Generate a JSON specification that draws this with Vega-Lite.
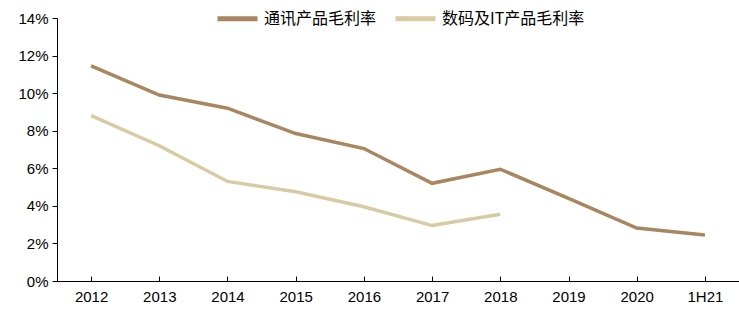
{
  "$schema": "https://vega.github.io/schema/vega-lite/v6.json",
  "width": 682,
  "height": 263,
  "autosize": "none",
  "padding": {"left": 57, "top": 18, "right": 0, "bottom": 37},
  "background": "white",
  "config": {"view": {"stroke": null}, "font": "Liberation Sans"},
  "data": {"values": [
    {"period": "2012", "series": "通讯产品毛利率", "value": 11.45},
    {"period": "2013", "series": "通讯产品毛利率", "value": 9.9},
    {"period": "2014", "series": "通讯产品毛利率", "value": 9.2},
    {"period": "2015", "series": "通讯产品毛利率", "value": 7.85},
    {"period": "2016", "series": "通讯产品毛利率", "value": 7.05},
    {"period": "2017", "series": "通讯产品毛利率", "value": 5.2},
    {"period": "2018", "series": "通讯产品毛利率", "value": 5.95},
    {"period": "2019", "series": "通讯产品毛利率", "value": 4.4},
    {"period": "2020", "series": "通讯产品毛利率", "value": 2.82},
    {"period": "1H21", "series": "通讯产品毛利率", "value": 2.45},
    {"period": "2012", "series": "数码及IT产品毛利率", "value": 8.8},
    {"period": "2013", "series": "数码及IT产品毛利率", "value": 7.2},
    {"period": "2014", "series": "数码及IT产品毛利率", "value": 5.3},
    {"period": "2015", "series": "数码及IT产品毛利率", "value": 4.75},
    {"period": "2016", "series": "数码及IT产品毛利率", "value": 3.95},
    {"period": "2017", "series": "数码及IT产品毛利率", "value": 2.95},
    {"period": "2018", "series": "数码及IT产品毛利率", "value": 3.55}
  ]},
  "mark": {"type": "line", "strokeWidth": 3.5, "strokeCap": "butt"},
  "encoding": {
    "x": {
      "field": "period", "type": "ordinal",
      "sort": ["2012","2013","2014","2015","2016","2017","2018","2019","2020","1H21"],
      "scale": {"paddingInner": 0, "paddingOuter": 0},
      "axis": {
        "title": null, "labelAngle": 0, "bandPosition": 0,
        "tickSize": -5, "labelPadding": 13, "labelFontSize": 15,
        "labelColor": "#000", "domainColor": "#000", "tickColor": "#000",
        "labelFont": "Liberation Sans", "labelBound": false, "labelOverlap": false
      }
    },
    "y": {
      "field": "value", "type": "quantitative",
      "scale": {"domain": [0, 14], "nice": false},
      "axis": {
        "title": null, "values": [0,2,4,6,8,10,12,14], "grid": false,
        "labelExpr": "datum.value + '%'",
        "tickSize": 5, "labelPadding": 4, "labelFontSize": 15,
        "labelColor": "#000", "domainColor": "#000", "tickColor": "#000",
        "labelFont": "Liberation Sans"
      }
    },
    "color": {
      "field": "series", "type": "nominal",
      "sort": ["通讯产品毛利率", "数码及IT产品毛利率"],
      "scale": {"domain": ["通讯产品毛利率", "数码及IT产品毛利率"], "range": ["#A8865F", "#D8CAA3"]},
      "legend": {
        "title": null, "orient": "none", "direction": "horizontal",
        "legendX": 158, "legendY": -22,
        "symbolType": "stroke", "symbolSize": 1600, "symbolStrokeWidth": 5,
        "labelFont": "Noto Sans CJK SC", "labelFontSize": 16, "labelColor": "#000",
        "columnPadding": 8, "labelOffset": 4
      }
    }
  }
}
